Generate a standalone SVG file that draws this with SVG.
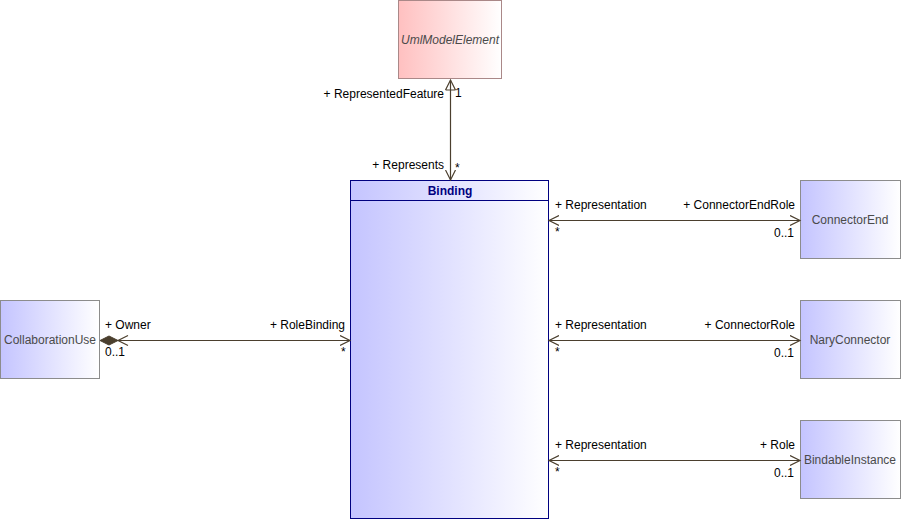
<svg xmlns="http://www.w3.org/2000/svg" width="901" height="520" viewBox="0 0 901 520">
<style>
text{font-family:"Liberation Sans",Arial,sans-serif;font-size:12px;fill:#000}
.cls{fill:url(#blue);stroke:#8c8c8c;stroke-width:1}
.name{fill:#4a4a4a;text-anchor:middle}
.ln{stroke:#4b3f2e;stroke-width:1.2;fill:none}
.r{text-anchor:end}
</style>
<defs>
<linearGradient id="blue" x1="0" y1="0" x2="1" y2="0">
<stop offset="0" stop-color="#c4c4ff"/><stop offset="1" stop-color="#ffffff"/>
</linearGradient>
<linearGradient id="red" x1="0" y1="0" x2="1" y2="0">
<stop offset="0" stop-color="#ffc0c0"/><stop offset="1" stop-color="#ffffff"/>
</linearGradient>
<marker id="open" markerWidth="12" markerHeight="12" refX="10" refY="5" orient="auto-start-reverse" markerUnits="userSpaceOnUse" viewBox="0 0 12 10">
<path d="M0,0 L10,5 L0,10" fill="none" stroke="#4b3f2e" stroke-width="1.2"/>
</marker>
</defs>
<g id="UmlModelElement">
<rect x="398.5" y="0.5" width="103" height="78" fill="url(#red)" stroke="#a88" />
<text x="450" y="44" class="name" font-style="italic">UmlModelElement</text>
</g>
<g id="Binding">
<rect x="350.5" y="180.5" width="198" height="338" fill="url(#blue)" stroke="#000080"/>
<line x1="350.5" y1="200.5" x2="548.5" y2="200.5" stroke="#000080"/>
<text x="450" y="195" text-anchor="middle" font-weight="bold" style="fill:#000080">Binding</text>
</g>
<g id="ConnectorEnd">
<rect x="800.5" y="180.5" width="100" height="78" class="cls"/>
<text x="850" y="224" class="name">ConnectorEnd</text>
</g>
<g id="NaryConnector">
<rect x="800.5" y="300.5" width="100" height="78" class="cls"/>
<text x="850" y="344" class="name">NaryConnector</text>
</g>
<g id="BindableInstance">
<rect x="800.5" y="420.5" width="100" height="78" class="cls"/>
<text x="850" y="464" class="name">BindableInstance</text>
</g>
<g id="CollaborationUse">
<rect x="0.5" y="300.5" width="99" height="78" class="cls"/>
<text x="50" y="344" class="name">CollaborationUse</text>
</g>
<g id="connectors">
<line class="ln" x1="450.5" y1="80" x2="450.5" y2="180" marker-end="url(#open)"/>
<path class="ln" d="M445.5,90 L450.5,80 L455.5,90 M445.5,90 L455.5,90"/>
<text x="444" y="98" class="r">+ RepresentedFeature</text>
<text x="455" y="97">1</text>
<text x="444" y="169" class="r">+ Represents</text>
<text x="455" y="172">*</text>

<line class="ln" x1="549" y1="220.5" x2="800" y2="220.5" marker-start="url(#open)" marker-end="url(#open)"/>
<text x="555" y="209">+ Representation</text>
<text x="795" y="209" class="r">+ ConnectorEndRole</text>
<text x="555" y="236">*</text>
<text x="794" y="237" class="r">0..1</text>

<line class="ln" x1="549" y1="340.5" x2="800" y2="340.5" marker-start="url(#open)" marker-end="url(#open)"/>
<text x="555" y="329">+ Representation</text>
<text x="795" y="329" class="r">+ ConnectorRole</text>
<text x="555" y="356">*</text>
<text x="794" y="357" class="r">0..1</text>

<line class="ln" x1="549" y1="460.5" x2="800" y2="460.5" marker-start="url(#open)" marker-end="url(#open)"/>
<text x="555" y="449">+ Representation</text>
<text x="795" y="449" class="r">+ Role</text>
<text x="555" y="476">*</text>
<text x="794" y="477" class="r">0..1</text>

<line class="ln" x1="118" y1="340.5" x2="350" y2="340.5" marker-end="url(#open)"/>
<path d="M100,340.5 L109,336 L118,340.5 L109,345 Z" fill="#4b3f2e" stroke="#4b3f2e"/>
<path class="ln" d="M128,335.5 L118,340.5 L128,345.5"/>
<text x="105" y="329">+ Owner</text>
<text x="105" y="356">0..1</text>
<text x="345" y="329" class="r">+ RoleBinding</text>
<text x="341" y="356">*</text>
</g>
</svg>
